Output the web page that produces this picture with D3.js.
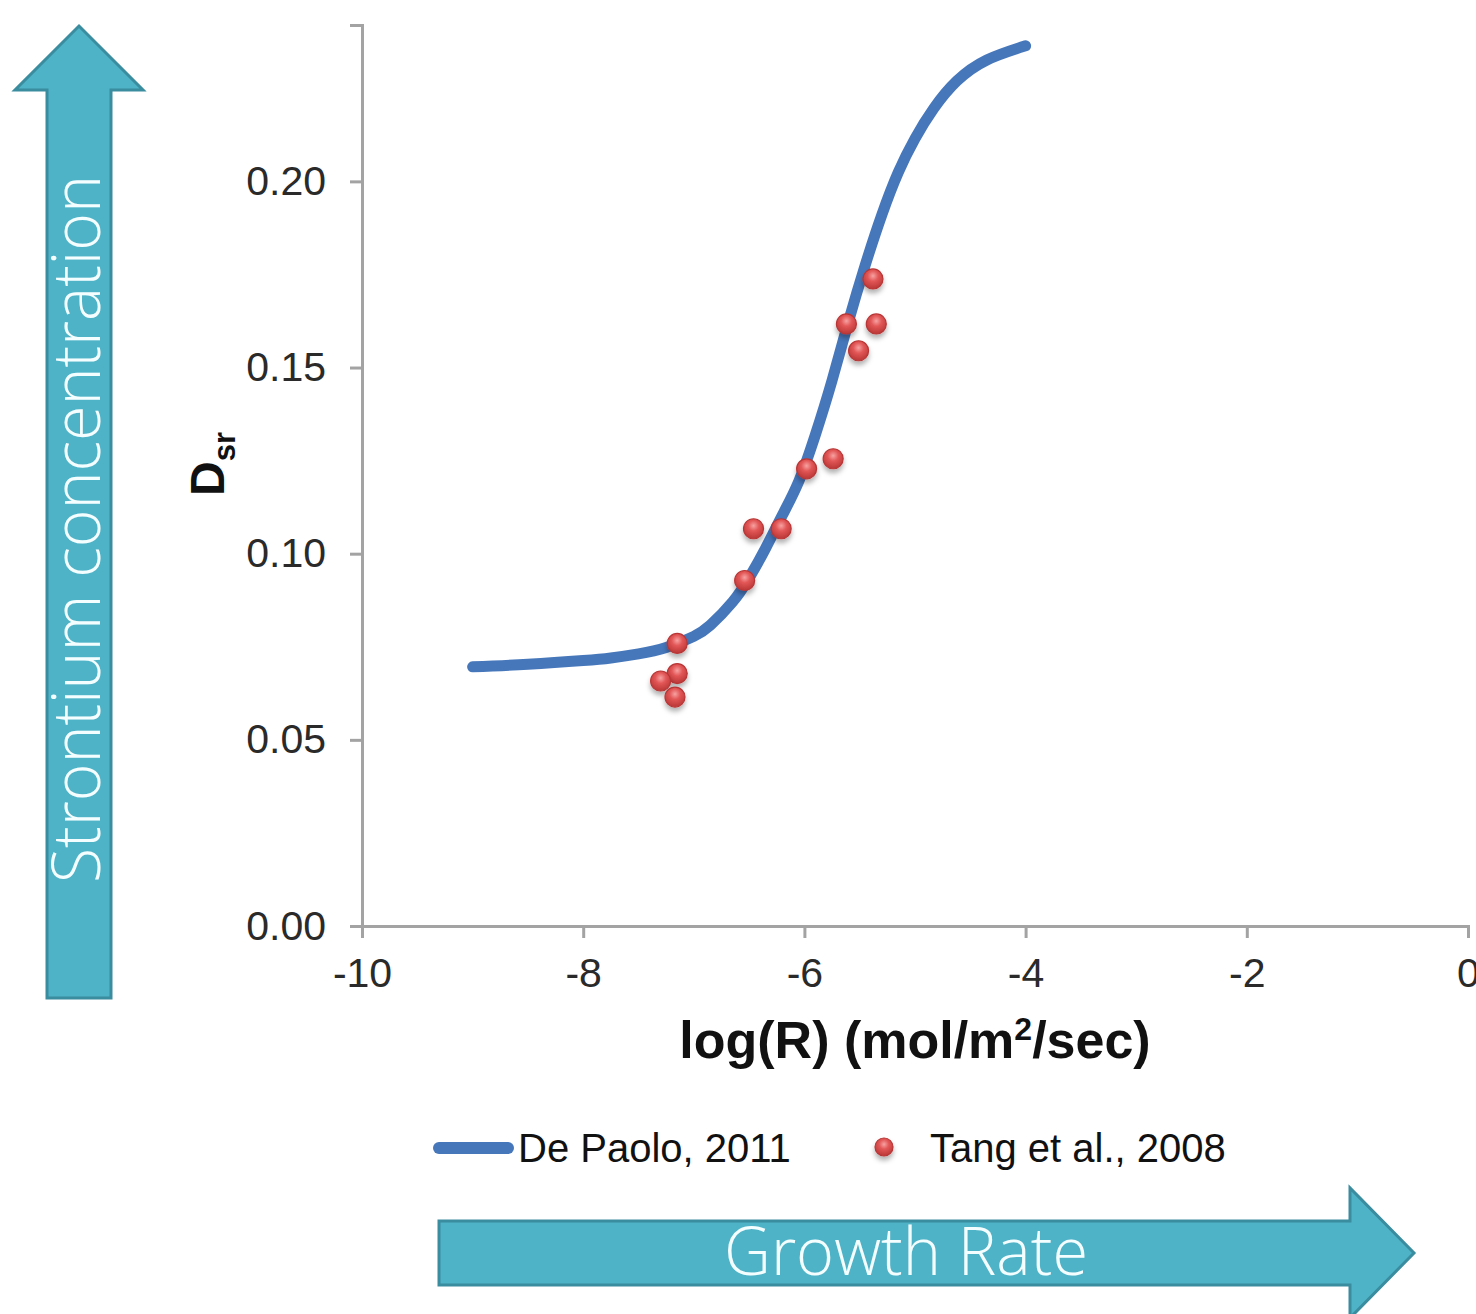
<!DOCTYPE html>
<html>
<head>
<meta charset="utf-8">
<script src="https://cdn.jsdelivr.net/npm/d3@7"></script>
<style>
  body { margin: 0; background: #fff; }
  svg { display: block; }
</style>
</head>
<body>
<div id="chart"></div>
<script>
// De Paolo (2011) model curve
var curveX = [-9.0, -8.5, -8.0, -7.75, -7.5, -7.25, -7.0, -6.85, -6.65, -6.5, -6.35, -6.2, -6.05, -5.9, -5.75, -5.6, -5.45, -5.3, -5.15, -5.0, -4.83, -4.62, -4.35, -4.0];
var curveY = [0.0696, 0.0703, 0.0713, 0.0720, 0.0731, 0.0748, 0.0778, 0.0808, 0.0870, 0.0935, 0.1015, 0.1103, 0.1195, 0.1320, 0.1465, 0.1625, 0.1775, 0.1910, 0.2025, 0.2115, 0.2196, 0.2270, 0.2326, 0.2364];

// Tang et al. (2008) measurements
var tangX = [-5.38, -5.62, -5.35, -5.51, -5.98, -5.74, -6.46, -6.21, -6.54, -7.15, -7.15, -7.30, -7.17];
var tangY = [0.1738, 0.1617, 0.1617, 0.1545, 0.1228, 0.1255, 0.1067, 0.1067, 0.0928, 0.0759, 0.0678, 0.0658, 0.0615];

var xTicks = [-10, -8, -6, -4, -2, 0];
var yTicks = [0, 0.05, 0.10, 0.15, 0.20];
var seriesNames = ["De Paolo, 2011", "Tang et al., 2008"];

(function() {
  var width = 1476;
  var height = 1314;
  var blue = "#4677bb";
  var teal = "#4fb3c7";
  var tealEdge = "#3a8c9f";

  var svg = d3
    .select("#chart")
    .append("svg")
    .attr("width", width)
    .attr("height", height);

  var defs = svg.append("defs");

  var grad = defs
    .append("radialGradient")
    .attr("id", "dot")
    .attr("cx", "50%")
    .attr("cy", "35%")
    .attr("r", "60%");
  grad.append("stop").attr("offset", "0%").attr("stop-color", "#f7a2a2");
  grad.append("stop").attr("offset", "45%").attr("stop-color", "#e25656");
  grad.append("stop").attr("offset", "100%").attr("stop-color", "#bf3b3b");

  var shadow = defs.append("filter").attr("id", "shadow").attr("x", "-50%").attr("y", "-50%").attr("width", "200%").attr("height", "200%");
  shadow
    .append("feDropShadow")
    .attr("dx", 0)
    .attr("dy", 4)
    .attr("stdDeviation", 2.5)
    .attr("flood-color", "#000")
    .attr("flood-opacity", 0.3);

  var x = d3.scaleLinear().domain([-10, 0]).range([362, 1468]);
  var y = d3.scaleLinear().domain([0, 0.242]).range([926, 25]);

  // big decorative arrows
  svg
    .append("polygon")
    .attr("points", "47,998 47,90 15,90 79,26 143,90 111,90 111,998")
    .attr("fill", teal)
    .attr("stroke", tealEdge)
    .attr("stroke-width", 3);

  svg
    .append("text")
    .attr("transform", "translate(100,529) rotate(-90)")
    .attr("text-anchor", "middle")
    .attr("font-family", "'Open Sans', Lato, sans-serif")
    .attr("font-weight", 300)
    .attr("font-size", 66)
    .attr("textLength", 708)
    .attr("lengthAdjust", "spacingAndGlyphs")
    .attr("fill", "#f4feff")
    .text("Strontium concentration");

  svg
    .append("polygon")
    .attr("points", "439,1221 1350,1221 1350,1188 1414,1253 1350,1318 1350,1285 439,1285")
    .attr("fill", teal)
    .attr("stroke", tealEdge)
    .attr("stroke-width", 3);

  svg
    .append("text")
    .attr("x", 906)
    .attr("y", 1275)
    .attr("text-anchor", "middle")
    .attr("font-family", "'Open Sans', Lato, sans-serif")
    .attr("font-weight", 300)
    .attr("font-size", 66)
    .attr("textLength", 364)
    .attr("lengthAdjust", "spacingAndGlyphs")
    .attr("fill", "#f4feff")
    .text("Growth Rate");

  // axes
  var xAxis = d3
    .axisBottom(x)
    .tickValues(xTicks)
    .tickSize(12)
    .tickPadding(20)
    .tickFormat(function(d) {
      return String(d);
    });

  var yAxis = d3
    .axisLeft(y)
    .tickValues(yTicks)
    .tickSize(12)
    .tickPadding(24)
    .tickFormat(d3.format(".2f"));

  var gx = svg.append("g").attr("transform", "translate(0," + y(0) + ")").call(xAxis);
  var gy = svg.append("g").attr("transform", "translate(" + x(-10) + ",0)").call(yAxis);

  [gx, gy].forEach(function(g) {
    g.select(".domain").attr("stroke", "#a3a3a3").attr("stroke-width", 3);
    g.selectAll(".tick line").attr("stroke", "#a3a3a3").attr("stroke-width", 3);
    g.selectAll(".tick text")
      .attr("font-family", "'Liberation Sans', Arial, sans-serif")
      .attr("font-size", 41)
      .attr("fill", "#2a2a2a");
  });

  // axis titles
  var xt = svg
    .append("text")
    .attr("x", 915)
    .attr("y", 1058)
    .attr("text-anchor", "middle")
    .attr("font-family", "'Liberation Sans', Arial, sans-serif")
    .attr("font-weight", "bold")
    .attr("font-size", 52)
    .attr("fill", "#111");
  xt.append("tspan").text("log(R) (mol/m");
  xt.append("tspan").attr("font-size", 32).attr("dy", -18).text("2");
  xt.append("tspan").attr("dy", 18).text("/sec)");

  var yt = svg
    .append("text")
    .attr("transform", "translate(224,464) rotate(-90)")
    .attr("text-anchor", "middle")
    .attr("font-family", "'Liberation Sans', Arial, sans-serif")
    .attr("font-weight", "bold")
    .attr("font-size", 48)
    .attr("fill", "#111");
  yt.append("tspan").text("D");
  yt.append("tspan").attr("font-size", 31).attr("dy", 11).text("sr");

  // model curve
  var curveData = curveX.map(function(v, i) {
    return { x: v, y: curveY[i] };
  });

  var line = d3
    .line()
    .x(function(d) {
      return x(d.x);
    })
    .y(function(d) {
      return y(d.y);
    })
    .curve(d3.curveNatural);

  svg
    .append("path")
    .datum(curveData)
    .attr("d", line)
    .attr("fill", "none")
    .attr("stroke", blue)
    .attr("stroke-width", 11)
    .attr("stroke-linecap", "round");

  // data points
  var pts = tangX.map(function(v, i) {
    return { x: v, y: tangY[i] };
  });

  svg
    .selectAll(".tang")
    .data(pts)
    .enter()
    .append("circle")
    .attr("class", "tang")
    .attr("cx", function(d) {
      return x(d.x);
    })
    .attr("cy", function(d) {
      return y(d.y);
    })
    .attr("r", 10)
    .attr("fill", "url(#dot)")
    .attr("stroke", "#b93636")
    .attr("stroke-width", 1.2)
    .attr("filter", "url(#shadow)");

  // legend
  var legend = svg.append("g").attr("font-family", "'Liberation Sans', Arial, sans-serif").attr("font-size", 40).attr("fill", "#111");

  legend
    .append("line")
    .attr("x1", 439)
    .attr("x2", 508)
    .attr("y1", 1148)
    .attr("y2", 1148)
    .attr("stroke", blue)
    .attr("stroke-width", 12)
    .attr("stroke-linecap", "round");
  legend.append("text").attr("x", 518).attr("y", 1162).text(seriesNames[0]);

  legend
    .append("circle")
    .attr("cx", 884)
    .attr("cy", 1147)
    .attr("r", 9)
    .attr("fill", "url(#dot)")
    .attr("stroke", "#b93636")
    .attr("stroke-width", 1.2)
    .attr("filter", "url(#shadow)");
  legend.append("text").attr("x", 930).attr("y", 1162).text(seriesNames[1]);
})();
</script>
</body>
</html>
